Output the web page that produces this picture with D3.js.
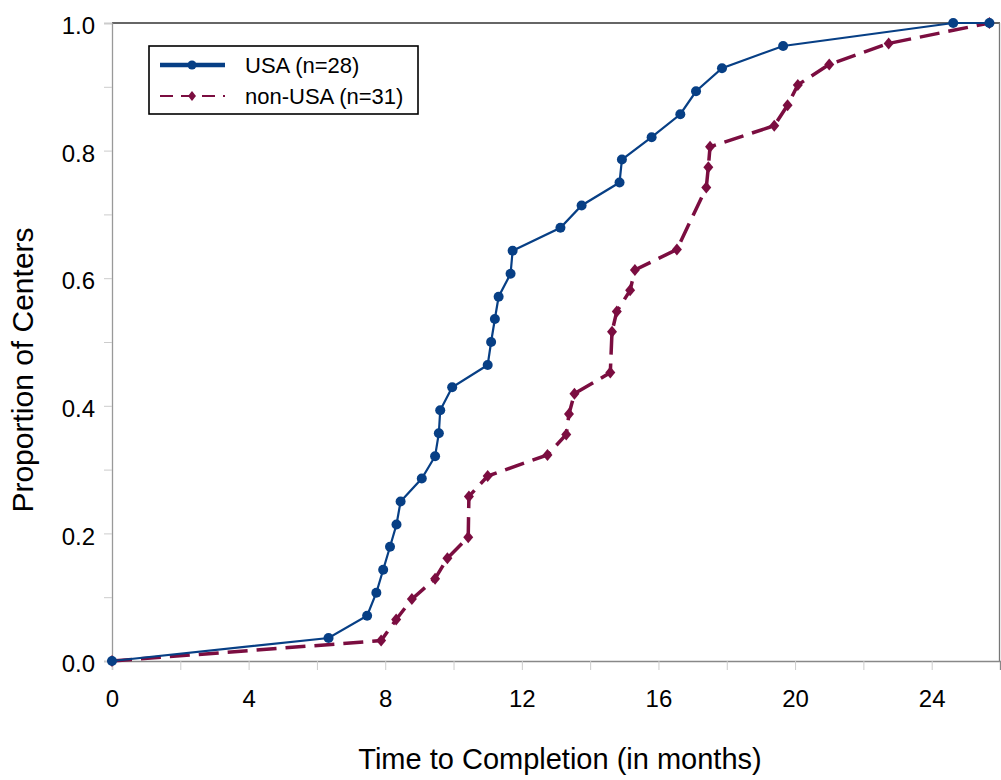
<!DOCTYPE html>
<html>
<head>
<meta charset="utf-8">
<script src="https://cdn.jsdelivr.net/npm/d3@7"></script>
<style>
  html, body { margin: 0; padding: 0; background: #fff; }
  svg { display: block; font-family: "Liberation Sans", Arial, sans-serif; }
</style>
</head>
<body>
<svg id="chart" width="1001" height="780"></svg>
<script>
// ---- data ----
const usaMonths = [0, 6.34, 7.47, 7.74, 7.94, 8.14, 8.33, 8.45, 9.07, 9.46, 9.57, 9.61, 9.96,
  11.00, 11.10, 11.21, 11.32, 11.67, 11.73, 13.13, 13.75, 14.86, 14.93, 15.80, 16.64,
  17.10, 17.86, 19.65, 24.63, 25.69];
const usaProp = [0, 0.036, 0.071, 0.107, 0.143, 0.179, 0.214, 0.250, 0.286, 0.321, 0.357,
  0.393, 0.429, 0.464, 0.500, 0.536, 0.571, 0.607, 0.643, 0.679, 0.714, 0.750, 0.786,
  0.821, 0.857, 0.893, 0.929, 0.964, 1.000, 1.000];
const nonUsaMonths = [0, 7.88, 8.32, 8.78, 9.46, 9.82, 10.43, 10.45, 11.00, 12.75, 13.30,
  13.38, 13.54, 14.59, 14.64, 14.78, 15.17, 15.31, 16.54, 17.40, 17.46, 17.51, 19.39,
  19.78, 20.08, 21.00, 22.74, 25.69];
const nonUsaProp = [0, 0.032, 0.065, 0.097, 0.129, 0.161, 0.194, 0.258, 0.290, 0.323, 0.355,
  0.387, 0.419, 0.452, 0.516, 0.548, 0.581, 0.613, 0.645, 0.742, 0.774, 0.806, 0.839,
  0.871, 0.903, 0.935, 0.968, 1.000];
const seriesNames = ["USA (n=28)", "non-USA (n=31)"];
const xTickValues = [0, 4, 8, 12, 16, 20, 24];
const xMinorTicks = [0, 2, 4, 6, 8, 10, 12, 14, 16, 18, 20, 22, 24];
const yTickValues = [0, 0.2, 0.4, 0.6, 0.8, 1.0];
const yMinorTicks = [0, 0.1, 0.2, 0.3, 0.4, 0.5, 0.6, 0.7, 0.8, 0.9, 1.0];
const xTitle = "Time to Completion (in months)";
const yTitle = "Proportion of Centers";

// ---- layout ----
const svg = d3.select("#chart");
const pLeft = 112, pRight = 1000, pTop = 23, pBottom = 661;
const x = d3.scaleLinear().domain([0, 26]).range([pLeft, pRight]);
const y = d3.scaleLinear().domain([0, 1]).range([pBottom, pTop]);

const usaColor = "#073f85";
const nonColor = "#7b0d40";

// frame
svg.append("line").attr("x1", pLeft).attr("x2", pRight).attr("y1", pTop).attr("y2", pTop)
  .attr("stroke", "#333").attr("stroke-width", 1.3);
svg.append("line").attr("x1", pRight - 0.5).attr("x2", pRight - 0.5).attr("y1", pTop).attr("y2", pBottom)
  .attr("stroke", "#777").attr("stroke-width", 1.3);

// x axis
const xAxisMinor = d3.axisBottom(x).tickValues(xMinorTicks).tickSize(9).tickFormat("");
const gxm = svg.append("g").attr("transform", `translate(0,${pBottom})`).call(xAxisMinor);
gxm.select(".domain").attr("stroke", "#888").attr("stroke-width", 1.3);
gxm.selectAll(".tick line").attr("stroke", "#ccc");

const xAxis = d3.axisBottom(x).tickValues(xTickValues).tickSize(0).tickPadding(29).tickFormat(d3.format("d"));
const gx = svg.append("g").attr("transform", `translate(0,${pBottom})`).call(xAxis);
gx.select(".domain").remove();
gx.selectAll("text").attr("font-size", 24).attr("fill", "#000")
  .attr("font-family", "'Liberation Sans', Arial, sans-serif");

// y axis
const yAxisMinor = d3.axisLeft(y).tickValues(yMinorTicks).tickSize(8).tickFormat("");
const gym = svg.append("g").attr("transform", `translate(${pLeft},0)`).call(yAxisMinor);
gym.select(".domain").attr("stroke", "#999").attr("stroke-width", 1.3);
gym.selectAll(".tick line").attr("stroke", "#ccc");

const yAxis = d3.axisLeft(y).tickValues(yTickValues).tickSize(0).tickPadding(17).tickFormat(d3.format(".1f"));
const gy = svg.append("g").attr("transform", `translate(${pLeft},3)`).call(yAxis);
gy.select(".domain").remove();
gy.selectAll("text").attr("font-size", 24).attr("fill", "#000")
  .attr("font-family", "'Liberation Sans', Arial, sans-serif");

// titles
svg.append("text").attr("x", 560).attr("y", 769).attr("text-anchor", "middle")
  .attr("font-size", 29).attr("fill", "#000").text(xTitle);
svg.append("text").attr("transform", "translate(33,370) rotate(-90)").attr("text-anchor", "middle")
  .attr("font-size", 30).attr("fill", "#000").text(yTitle);

// lines
const usaData = usaMonths.map((m, i) => ({ x: m, y: usaProp[i] }));
const nonData = nonUsaMonths.map((m, i) => ({ x: m, y: nonUsaProp[i] }));
const line = d3.line().x(d => x(d.x)).y(d => y(d.y));

svg.append("path").datum(nonData).attr("d", line).attr("fill", "none")
  .attr("stroke", nonColor).attr("stroke-width", 3.5).attr("stroke-dasharray", "20,9");
svg.append("path").datum(usaData).attr("d", line).attr("fill", "none")
  .attr("stroke", usaColor).attr("stroke-width", 2.2);

function diamond(cx, cy, w, h) {
  return `M${cx},${cy - h}L${cx + w},${cy}L${cx},${cy + h}L${cx - w},${cy}Z`;
}

svg.append("g").selectAll("path").data(nonData).join("path")
  .attr("d", d => diamond(x(d.x), y(d.y), 5, 6)).attr("fill", nonColor);
svg.append("g").selectAll("circle").data(usaData).join("circle")
  .attr("cx", d => x(d.x)).attr("cy", d => y(d.y)).attr("r", 5).attr("fill", usaColor);

// legend
const lg = svg.append("g");
lg.append("rect").attr("x", 149).attr("y", 46).attr("width", 269).attr("height", 68)
  .attr("fill", "#fff").attr("stroke", "#000").attr("stroke-width", 1.6);
lg.append("line").attr("x1", 160).attr("x2", 225).attr("y1", 65).attr("y2", 65)
  .attr("stroke", usaColor).attr("stroke-width", 4.5);
lg.append("circle").attr("cx", 192).attr("cy", 65).attr("r", 4.5).attr("fill", usaColor);
lg.append("line").attr("x1", 160).attr("x2", 225).attr("y1", 96).attr("y2", 96)
  .attr("stroke", nonColor).attr("stroke-width", 2.2).attr("stroke-dasharray", "13,8");
lg.append("path").attr("d", diamond(192, 96, 4, 5)).attr("fill", nonColor);
lg.append("text").attr("x", 245).attr("y", 65).attr("dy", "0.36em").attr("font-size", 22)
  .attr("fill", "#000").text(seriesNames[0]);
lg.append("text").attr("x", 245).attr("y", 96).attr("dy", "0.36em").attr("font-size", 22)
  .attr("fill", "#000").text(seriesNames[1]);
</script>
</body>
</html>
